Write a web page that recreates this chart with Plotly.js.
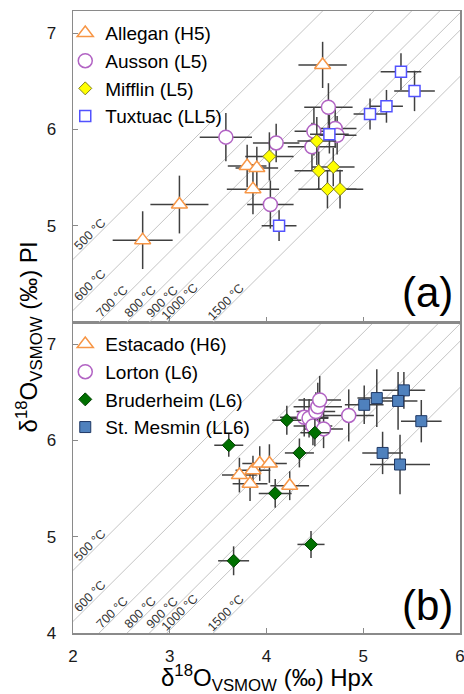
<!DOCTYPE html>
<html><head><meta charset="utf-8">
<script src="https://cdn.plot.ly/plotly-3.0.1.min.js"></script>
<style>html,body{margin:0;padding:0;background:#fff}</style>
</head><body><div id="chart" style="width:464px;height:694px"></div>
<script>
// Isotherms: Δ(Pl-Hpx) for each temperature
const isoLabels = ['500 °C','600 °C','700 °C','800 °C','900 °C','1000 °C','1500 °C'];
const isoDelta = [2.65, 2.12, 1.73, 1.44, 1.21, 1.03, 0.55];

// Panel (a)
const alleganX = [2.72, 3.10, 3.80, 3.90, 3.86, 4.58];
const alleganY = [4.85, 5.22, 5.62, 5.60, 5.38, 6.67];
const alleganEX = [0.31, 0.30, 0.20, 0.22, 0.27, 0.25];
const alleganEY = [0.30, 0.30, 0.22, 0.22, 0.26, 0.24];

const aussonX = [3.58, 4.10, 4.04, 4.47, 4.49, 4.64, 4.71, 4.73];
const aussonY = [5.92, 5.86, 5.22, 5.82, 5.98, 6.23, 6.01, 5.94];
const aussonEX = [0.27, 0.24, 0.24, 0.25, 0.20, 0.25, 0.22, 0.20];
const aussonEY = [0.25, 0.20, 0.25, 0.25, 0.25, 0.25, 0.20, 0.20];

const mifflinX = [4.03, 4.52, 4.54, 4.69, 4.63, 4.76];
const mifflinY = [5.72, 5.88, 5.57, 5.61, 5.38, 5.38];
const mifflinEX = [0.25, 0.20, 0.25, 0.22, 0.30, 0.24];
const mifflinEY = [0.25, 0.25, 0.20, 0.20, 0.20, 0.20];

const tuxtuacX = [4.13, 4.65, 5.07, 5.24, 5.39, 5.53];
const tuxtuacY = [5.00, 5.95, 6.16, 6.24, 6.60, 6.40];
const tuxtuacEX = [0.18, 0.20, 0.17, 0.17, 0.21, 0.21];
const tuxtuacEY = [0.16, 0.20, 0.16, 0.17, 0.19, 0.21];

// Panel (b)
const estacadoX = [3.72, 3.83, 3.86, 3.93, 4.03, 4.24];
const estacadoY = [5.64, 5.55, 5.69, 5.76, 5.76, 5.53];
const estacadoEX = [0.18, 0.18, 0.18, 0.18, 0.18, 0.20];
const estacadoEY = [0.18, 0.18, 0.15, 0.18, 0.20, 0.15];

const lortonX = [4.39, 4.44, 4.48, 4.51, 4.53, 4.55, 4.59, 4.85];
const lortonY = [6.24, 6.23, 6.15, 6.30, 6.35, 6.42, 6.12, 6.26];
const lortonEX = [0.25, 0.20, 0.20, 0.20, 0.25, 0.22, 0.20, 0.26];
const lortonEY = [0.20, 0.20, 0.20, 0.20, 0.25, 0.25, 0.20, 0.27];

const bruderX = [3.61, 3.66, 4.09, 4.21, 4.34, 4.46, 4.50];
const bruderY = [5.95, 4.75, 5.45, 6.21, 5.87, 4.92, 6.08];
const bruderEX = [0.15, 0.16, 0.17, 0.15, 0.15, 0.14, 0.15];
const bruderEY = [0.12, 0.15, 0.15, 0.15, 0.15, 0.14, 0.14];

const mesminX = [5.01, 5.14, 5.42, 5.36, 5.60, 5.20, 5.38];
const mesminY = [6.37, 6.44, 6.52, 6.41, 6.20, 5.87, 5.75];
const mesminEX = [0.20, 0.20, 0.22, 0.20, 0.21, 0.21, 0.31];
const mesminEY = [0.20, 0.30, 0.19, 0.30, 0.22, 0.22, 0.31];

const xTicks = [2, 3, 4, 5, 6];
const yTicksA = [5, 6, 7];
const yTicksB = [4, 5, 6, 7];

const FONT = 'Liberation Sans, Arial, sans-serif';
const ERRC = '#404040';

function errs(ex, ey) {
  return {
    error_x: {type: 'data', array: ex, visible: true, color: ERRC, thickness: 1.5, width: 0},
    error_y: {type: 'data', array: ey, visible: true, color: ERRC, thickness: 1.5, width: 0}
  };
}

const traces = [];
// isotherm lines in both panels
[['x2','y2'],['x','y']].forEach(([xa, ya]) => {
  isoDelta.forEach(d => {
    traces.push({x: [1, 7], y: [1 + d, 7 + d], xaxis: xa, yaxis: ya, mode: 'lines',
      line: {color: '#c4c4c4', width: 1}, showlegend: false, hoverinfo: 'skip'});
  });
});

function pts(name, X, Y, EX, EY, xa, ya, leg, marker) {
  return Object.assign({name: name, x: X, y: Y, xaxis: xa, yaxis: ya, legend: leg,
    mode: 'markers', type: 'scatter', marker: marker}, errs(EX, EY));
}

const ORANGE = '#F79646', PURPLE = '#B264C4', BLUE = '#5252FF';
traces.push(pts('Allegan (H5)', alleganX, alleganY, alleganEX, alleganEY, 'x2', 'y2', 'legend',
  {symbol: 'triangle-up', size: 14, color: '#fff', line: {color: ORANGE, width: 1.5}}));
traces.push(pts('Ausson (L5)', aussonX, aussonY, aussonEX, aussonEY, 'x2', 'y2', 'legend',
  {symbol: 'circle', size: 14, color: '#fff', line: {color: PURPLE, width: 1.5}}));
traces.push(pts('Mifflin (L5)', mifflinX, mifflinY, mifflinEX, mifflinEY, 'x2', 'y2', 'legend',
  {symbol: 'diamond', size: 10, color: '#FFFF00', line: {color: '#7f7f20', width: 1}}));
traces.push(pts('Tuxtuac (LL5)', tuxtuacX, tuxtuacY, tuxtuacEX, tuxtuacEY, 'x2', 'y2', 'legend',
  {symbol: 'square', size: 11, color: '#fff', line: {color: BLUE, width: 1.5}}));

traces.push(pts('Estacado (H6)', estacadoX, estacadoY, estacadoEX, estacadoEY, 'x', 'y', 'legend2',
  {symbol: 'triangle-up', size: 14, color: '#fff', line: {color: ORANGE, width: 1.5}}));
traces.push(pts('Lorton (L6)', lortonX, lortonY, lortonEX, lortonEY, 'x', 'y', 'legend2',
  {symbol: 'circle', size: 14, color: '#fff', line: {color: PURPLE, width: 1.5}}));
traces.push(pts('Bruderheim (L6)', bruderX, bruderY, bruderEX, bruderEY, 'x', 'y', 'legend2',
  {symbol: 'diamond', size: 10, color: '#007000', line: {color: '#004000', width: 1}}));
traces.push(pts('St. Mesmin (LL6)', mesminX, mesminY, mesminEX, mesminEY, 'x', 'y', 'legend2',
  {symbol: 'square', size: 11, color: '#4F81BD', line: {color: '#1F3864', width: 1}}));

// isotherm labels
const annotations = [];
[['x2','y2'],['x','y']].forEach(([xa, ya]) => {
  isoDelta.forEach((d, i) => {
    let lx = 4.21 - d - 0.08, ly = 4.21;
    if (lx < 2.18) { lx = 2.18; ly = lx + d + 0.08; }
    annotations.push({x: lx, y: ly, xref: xa, yref: ya, text: isoLabels[i], textangle: -45,
      showarrow: false, xanchor: 'center', yanchor: 'middle',
      font: {family: FONT, size: 12.5, color: '#333'}});
  });
});
annotations.push({text: '(a)', xref: 'x2 domain', yref: 'y2 domain', x: 0.987, y: 0.095,
  xanchor: 'right', yanchor: 'middle', showarrow: false, font: {family: FONT, size: 42, color: '#000'}});
annotations.push({text: '(b)', xref: 'x domain', yref: 'y domain', x: 0.987, y: 0.088,
  xanchor: 'right', yanchor: 'middle', showarrow: false, font: {family: FONT, size: 42, color: '#000'}});
annotations.push({text: 'δ<sup>18</sup>O<sub>VSMOW</sub> (‰) Pl', xref: 'paper', yref: 'paper',
  x: -0.115, y: 0.476, xanchor: 'center', yanchor: 'middle', textangle: -90, showarrow: false,
  font: {family: FONT, size: 24, color: '#000'}});
annotations.push({text: 'δ<sup>18</sup>O<sub>VSMOW</sub> (‰) Hpx', xref: 'paper', yref: 'paper',
  x: 0.5, y: -0.073, xanchor: 'center', yanchor: 'middle', showarrow: false,
  font: {family: FONT, size: 24, color: '#000'}});

const axisBase = {
  showgrid: false, zeroline: false, showline: true, mirror: true, linecolor: '#8a8a8a', linewidth: 1.5,
  ticks: 'inside', ticklen: 5, tickwidth: 1.2, tickcolor: '#8a8a8a', ticklabeloverflow: 'allow',
  tickfont: {family: FONT, size: 17, color: '#1a1a1a'}
};

const legendBase = {xanchor: 'left', yanchor: 'top', bgcolor: 'rgba(0,0,0,0)', borderwidth: 0,
  font: {family: FONT, size: 19, color: '#000'}, tracegroupgap: 0, itemsizing: 'trace'};

const layout = {
  width: 464, height: 694,
  margin: {l: 73, r: 4, t: 11, b: 61},
  paper_bgcolor: '#fff', plot_bgcolor: '#fff',
  showlegend: true,
  xaxis: Object.assign({}, axisBase, {domain: [0, 1], range: [2, 6], anchor: 'y', tickvals: xTicks, ticklabelstandoff: 7}),
  xaxis2: Object.assign({}, axisBase, {domain: [0, 1], range: [2, 6], anchor: 'y2', tickvals: xTicks, showticklabels: false}),
  yaxis: Object.assign({}, axisBase, {domain: [0, 0.5], range: [4, 7.23], anchor: 'x', tickvals: yTicksB, ticklabelstandoff: 12}),
  yaxis2: Object.assign({}, axisBase, {domain: [0.5, 1], range: [4, 7.23], anchor: 'x2', tickvals: yTicksA, ticklabelstandoff: 12}),
  legend: Object.assign({}, legendBase, {x: -0.02, y: 0.995}),
  legend2: Object.assign({}, legendBase, {x: -0.02, y: 0.495}),
  annotations: annotations
};

Plotly.newPlot('chart', traces, layout, {displayModeBar: false, staticPlot: true});
</script></body></html>
